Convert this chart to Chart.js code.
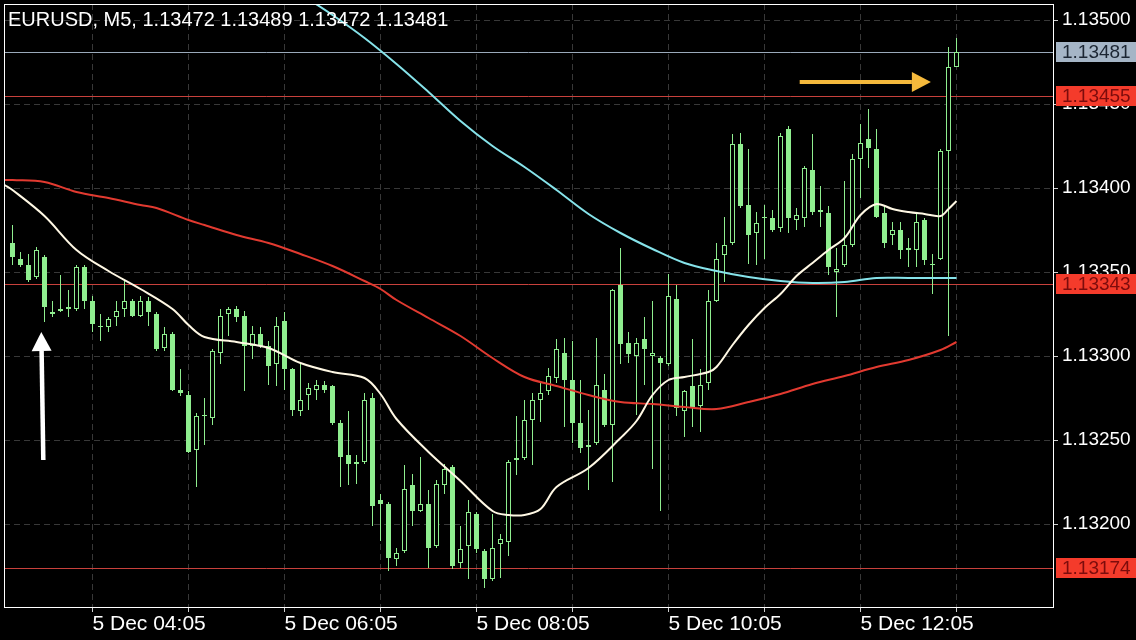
<!DOCTYPE html>
<html>
<head>
<meta charset="utf-8">
<title>EURUSD M5</title>
<style>
  html, body { margin: 0; padding: 0; background: #000; }
  #wrap { width: 1136px; height: 640px; }
</style>
</head>
<body>
<div id="wrap"><canvas id="chart" width="1136" height="640"></canvas></div>
<script src="https://cdn.jsdelivr.net/npm/chart.js@4.4.1/dist/chart.umd.min.js"></script>
<script>
// candles, one per 5 minutes, index 0 = 03:15
const opens = [
  1.13367, 1.13358, 1.13354, 1.13347, 1.13359, 1.13326, 1.13328, 1.13329, 1.13328, 1.13353,
  1.13333, 1.13318, 1.13317, 1.13323, 1.13328, 1.13333, 1.13324, 1.13333, 1.13325, 1.13305,
  1.13313, 1.13280, 1.13277, 1.13244, 1.13265, 1.13263, 1.13302, 1.13325, 1.13328, 1.13324,
  1.13306, 1.13313, 1.13306, 1.13295, 1.13321, 1.13292, 1.13267, 1.13277, 1.13280, 1.13283,
  1.13282, 1.13260, 1.13241, 1.13237, 1.13237, 1.13275, 1.13214, 1.13212, 1.13179, 1.13184,
  1.13223, 1.13208, 1.13212, 1.13187, 1.13223, 1.13234, 1.13177, 1.13187, 1.13206, 1.13184,
  1.13167, 1.13188, 1.13189, 1.13239, 1.13239, 1.13262, 1.13274, 1.13279, 1.13287, 1.13302,
  1.13286, 1.13260, 1.13247, 1.13248, 1.13280, 1.13259, 1.13342, 1.13308, 1.13300, 1.13310,
  1.13300, 1.13299, 1.13295, 1.13334, 1.13267, 1.13282, 1.13270, 1.13284, 1.13333, 1.13360,
  1.13367, 1.13426, 1.13390, 1.13373, 1.13382, 1.13382, 1.13376, 1.13435, 1.13381, 1.13382,
  1.13411, 1.13387, 1.13385, 1.13350, 1.13354, 1.13366, 1.13417, 1.13429, 1.13423, 1.13385,
  1.13372, 1.13375, 1.13364, 1.13363, 1.13381, 1.13355, 1.13358, 1.13422, 1.13472
];
const highs = [
  1.13378, 1.13362, 1.13361, 1.13365, 1.13360, 1.13333, 1.13348, 1.13339, 1.13354, 1.13354,
  1.13336, 1.13325, 1.13323, 1.13333, 1.13345, 1.13334, 1.13336, 1.13335, 1.13326, 1.13317,
  1.13314, 1.13292, 1.13279, 1.13266, 1.13275, 1.13304, 1.13328, 1.13329, 1.13330, 1.13327,
  1.13318, 1.13317, 1.13309, 1.13323, 1.13326, 1.13293, 1.13296, 1.13284, 1.13286, 1.13285,
  1.13283, 1.13262, 1.13267, 1.13241, 1.13278, 1.13278, 1.13218, 1.13213, 1.13186, 1.13235,
  1.13230, 1.13240, 1.13220, 1.13226, 1.13236, 1.13235, 1.13199, 1.13214, 1.13207, 1.13185,
  1.13206, 1.13194, 1.13238, 1.13264, 1.13274, 1.13278, 1.13284, 1.13293, 1.13310, 1.13311,
  1.13309, 1.13286, 1.13268, 1.13311, 1.13289, 1.13340, 1.13364, 1.13314, 1.13311, 1.13323,
  1.13333, 1.13300, 1.13349, 1.13342, 1.13280, 1.13310, 1.13292, 1.13339, 1.13367, 1.13383,
  1.13432, 1.13433, 1.13423, 1.13386, 1.13390, 1.13387, 1.13433, 1.13437, 1.13388, 1.13413,
  1.13432, 1.13401, 1.13389, 1.13364, 1.13404, 1.13420, 1.13438, 1.13447, 1.13435, 1.13389,
  1.13380, 1.13380, 1.13370, 1.13385, 1.13382, 1.13361, 1.13423, 1.13484, 1.13489
];
const lows = [
  1.13354, 1.13353, 1.13344, 1.13346, 1.13320, 1.13323, 1.13326, 1.13323, 1.13327, 1.13328,
  1.13314, 1.13309, 1.13314, 1.13318, 1.13323, 1.13323, 1.13323, 1.13318, 1.13303, 1.13303,
  1.13279, 1.13276, 1.13242, 1.13222, 1.13247, 1.13259, 1.13295, 1.13312, 1.13320, 1.13279,
  1.13298, 1.13305, 1.13283, 1.13282, 1.13280, 1.13264, 1.13264, 1.13268, 1.13274, 1.13278,
  1.13259, 1.13222, 1.13223, 1.13224, 1.13236, 1.13199, 1.13190, 1.13172, 1.13175, 1.13183,
  1.13199, 1.13207, 1.13174, 1.13186, 1.13218, 1.13173, 1.13174, 1.13167, 1.13183, 1.13162,
  1.13166, 1.13168, 1.13181, 1.13229, 1.13238, 1.13235, 1.13261, 1.13277, 1.13284, 1.13258,
  1.13248, 1.13242, 1.13220, 1.13247, 1.13258, 1.13225, 1.13295, 1.13296, 1.13265, 1.13283,
  1.13233, 1.13208, 1.13294, 1.13264, 1.13252, 1.13258, 1.13255, 1.13280, 1.13332, 1.13344,
  1.13366, 1.13388, 1.13355, 1.13354, 1.13358, 1.13374, 1.13374, 1.13373, 1.13375, 1.13377,
  1.13384, 1.13377, 1.13348, 1.13323, 1.13353, 1.13365, 1.13394, 1.13412, 1.13382, 1.13364,
  1.13366, 1.13358, 1.13353, 1.13353, 1.13354, 1.13337, 1.13357, 1.13312, 1.13472
];
const closes = [
  1.13359, 1.13354, 1.13345, 1.13363, 1.13329, 1.13325, 1.13327, 1.13328, 1.13353, 1.13333,
  1.13319, 1.13317, 1.13322, 1.13327, 1.13333, 1.13324, 1.13333, 1.13326, 1.13304, 1.13313,
  1.13280, 1.13278, 1.13243, 1.13264, 1.13264, 1.13303, 1.13324, 1.13328, 1.13323, 1.13306,
  1.13313, 1.13306, 1.13294, 1.13318, 1.13292, 1.13268, 1.13274, 1.13281, 1.13283, 1.13280,
  1.13260, 1.13240, 1.13236, 1.13236, 1.13274, 1.13211, 1.13212, 1.13180, 1.13183, 1.13221,
  1.13208, 1.13212, 1.13186, 1.13224, 1.13233, 1.13175, 1.13185, 1.13207, 1.13185, 1.13167,
  1.13186, 1.13191, 1.13237, 1.13238, 1.13262, 1.13274, 1.13278, 1.13288, 1.13304, 1.13286,
  1.13260, 1.13245, 1.13246, 1.13283, 1.13259, 1.13339, 1.13307, 1.13301, 1.13308, 1.13304,
  1.13302, 1.13296, 1.13336, 1.13269, 1.13279, 1.13269, 1.13283, 1.13333, 1.13358, 1.13366,
  1.13426, 1.13389, 1.13372, 1.13379, 1.13383, 1.13375, 1.13431, 1.13382, 1.13384, 1.13412,
  1.13386, 1.13386, 1.13353, 1.13352, 1.13366, 1.13417, 1.13427, 1.13424, 1.13383, 1.13367,
  1.13375, 1.13363, 1.13363, 1.13380, 1.13357, 1.13354, 1.13422, 1.13472, 1.13481
];

// moving averages: [candle index, price]
const fastMa = [
  [-1, 1.134018], [0, 1.133988], [4, 1.133833], [8, 1.133631], [12, 1.133508], [16, 1.133396],
  [20, 1.133277], [22, 1.133185], [24, 1.133116], [28, 1.133085], [32, 1.133048], [36, 1.132957],
  [40, 1.132903], [44, 1.132872], [46, 1.132774], [48, 1.132625], [52, 1.132429], [56, 1.132256],
  [60, 1.132077], [62, 1.132054], [64, 1.132054], [66, 1.132089], [68, 1.132220], [72, 1.132336],
  [76, 1.132512], [78, 1.132613], [80, 1.132768], [82, 1.132857], [84, 1.132877], [87, 1.132905],
  [88, 1.132932], [90, 1.133065], [92, 1.133182], [94, 1.133286], [96, 1.133370], [98, 1.133479],
  [100, 1.133551], [102, 1.133631], [104, 1.133702], [106, 1.133839], [108, 1.133902], [110, 1.133875],
  [112, 1.133858], [114, 1.133848], [116, 1.133833], [117, 1.133875], [118, 1.133923]
];
const midMa = [
  [-1, 1.134048], [0, 1.134045], [4, 1.134033], [8, 1.133979], [12, 1.133940], [16, 1.133899],
  [18, 1.133881], [22, 1.133810], [24, 1.133777], [28, 1.133723], [32, 1.133670], [36, 1.133610],
  [40, 1.133536], [44, 1.133449], [46, 1.133399], [48, 1.133336], [52, 1.133229], [56, 1.133119],
  [60, 1.132988], [64, 1.132875], [68, 1.132824], [72, 1.132765], [76, 1.132726], [80, 1.132713],
  [84, 1.132695], [88, 1.132687], [92, 1.132729], [96, 1.132774], [100, 1.132836], [104, 1.132881],
  [108, 1.132935], [112, 1.132976], [116, 1.133036], [118, 1.133085]
];
const slowMa = [
  [36, 1.135155], [40, 1.135030], [44, 1.134893], [48, 1.134738], [52, 1.134571], [56, 1.134396],
  [60, 1.134250], [64, 1.134123], [68, 1.133991], [72, 1.133845], [76, 1.133730], [80, 1.133634],
  [84, 1.133552], [88, 1.133503], [92, 1.133473], [96, 1.133445], [100, 1.133432], [104, 1.133443],
  [108, 1.133467], [112, 1.133464], [118, 1.133462]
];

const bidPrice = 1.13481;
const levelPrices = [1.13455, 1.13343, 1.13174];
const yTicks = [1.132, 1.1325, 1.133, 1.1335, 1.134, 1.1345, 1.135];
const gridIdx = [10, 22, 34, 46, 58, 70, 82, 94, 106, 118];
const labelIdx = [10, 34, 58, 82, 106];
const timeLabels = ["5 Dec 04:05", "5 Dec 06:05", "5 Dec 08:05", "5 Dec 10:05", "5 Dec 12:05"];
const titleText = "EURUSD, M5, 1.13472 1.13489 1.13472 1.13481";

// hand-drawn arrows: [index, price] from -> to
const whiteArrow = [[3.85, 1.13238], [3.6, 1.13314]];
const orangeArrow = [[98.4, 1.13463], [114.8, 1.13463]];

const green = "#8fee8f";
const font = "'Liberation Sans', Arial, sans-serif";

function drawArrow(ctx, x0, y0, x1, y1, color, w, headLen, headHalf) {
  const a = Math.atan2(y1 - y0, x1 - x0);
  const bx = x1 - Math.cos(a) * headLen, by = y1 - Math.sin(a) * headLen;
  ctx.strokeStyle = color;
  ctx.fillStyle = color;
  ctx.lineWidth = w;
  ctx.beginPath();
  ctx.moveTo(x0, y0);
  ctx.lineTo(bx, by);
  ctx.stroke();
  ctx.beginPath();
  ctx.moveTo(x1, y1);
  ctx.lineTo(bx - Math.sin(a) * headHalf, by + Math.cos(a) * headHalf);
  ctx.lineTo(bx + Math.sin(a) * headHalf, by - Math.cos(a) * headHalf);
  ctx.closePath();
  ctx.fill();
}

const overlay = {
  id: "overlay",
  beforeDatasetsDraw(chart) {
    const { ctx, chartArea: a, scales: { y } } = chart;
    ctx.save();
    ctx.lineWidth = 1;
    const line = (p, c) => {
      const py = Math.round(y.getPixelForValue(p)) + 0.5;
      ctx.strokeStyle = c;
      ctx.beginPath();
      ctx.moveTo(a.left, py);
      ctx.lineTo(a.right, py);
      ctx.stroke();
    };
    line(bidPrice, "#9aa9ba");
    levelPrices.forEach((p) => line(p, "#c8413c"));
    ctx.restore();
  },
  afterDraw(chart) {
    const { ctx, chartArea: a, scales: { x, y } } = chart;
    ctx.save();
    // frame
    ctx.strokeStyle = "#ffffff";
    ctx.lineWidth = 1;
    ctx.strokeRect(a.left + 0.5, a.top + 0.5, a.right - a.left, a.bottom - a.top);

    // price boxes on the axis
    ctx.font = "19px " + font;
    ctx.textBaseline = "middle";
    ctx.textAlign = "left";
    const box = (p, bg, fg) => {
      const py = y.getPixelForValue(p);
      ctx.fillStyle = bg;
      ctx.fillRect(a.right + 3, Math.round(py) - 10, 1136 - a.right - 3, 20);
      ctx.fillStyle = fg;
      ctx.fillText(p.toFixed(5), a.right + 9, py + 1);
    };
    box(bidPrice, "#a5b5c6", "#1c2633");
    levelPrices.forEach((p) => box(p, "#f43b2b", "#7c0c0c"));

    // title
    ctx.fillStyle = "#ffffff";
    ctx.font = "20px " + font;
    ctx.textBaseline = "alphabetic";
    ctx.fillText(titleText, 8, 26);

    // arrows
    const px = (pt) => [x.getPixelForValue(pt[0]), y.getPixelForValue(pt[1])];
    let [p0, p1] = whiteArrow.map(px);
    drawArrow(ctx, p0[0], p0[1], p1[0], p1[1], "#ffffff", 4.5, 19, 10);
    [p0, p1] = orangeArrow.map(px);
    drawArrow(ctx, p0[0], p0[1], p1[0], p1[1], "#f5b93c", 4, 19, 10);
    ctx.restore();
  }
};

const pair = (arr) => arr.map(([i, v]) => ({ x: i, y: v }));
const maLine = (arr, color) => ({
  type: "line",
  data: pair(arr),
  borderColor: color,
  borderWidth: 2,
  pointRadius: 0,
  tension: 0.35,
  order: 0
});

new Chart(document.getElementById("chart"), {
  type: "bar",
  data: {
    datasets: [
      maLine(fastMa, "#fff8e4"),
      maLine(midMa, "#e23a30"),
      maLine(slowMa, "#86e3ea"),
      {
        data: opens.map((o, i) => ({ x: i, y: [o, closes[i]] })),
        backgroundColor: (c) => (closes[c.dataIndex] >= opens[c.dataIndex] ? "#000000" : green),
        borderColor: green,
        borderWidth: 1,
        borderSkipped: false,
        barThickness: 5,
        grouped: false,
        inflateAmount: 0,
        order: 1
      },
      {
        data: lows.map((l, i) => ({ x: i, y: [l, highs[i]] })),
        backgroundColor: green,
        borderWidth: 0,
        barThickness: 1,
        grouped: false,
        inflateAmount: 0,
        order: 2
      }
    ]
  },
  options: {
    responsive: false,
    animation: false,
    devicePixelRatio: 1,
    layout: { padding: { left: 4, top: 4, right: 0, bottom: 0 } },
    plugins: { legend: { display: false }, tooltip: { enabled: false } },
    scales: {
      x: {
        type: "linear",
        min: -1.0625,
        max: 130.0625,
        offset: false,
        alignToPixels: false,
        afterFit: (s) => {
          s.height = 33;
          s.paddingLeft = 0;
          s.paddingRight = 0;
        },
        afterBuildTicks: (s) => { s.ticks = gridIdx.map((v) => ({ value: v })); },
        grid: { offset: false, color: "#383838", tickColor: "#cfcfcf", tickLength: 5, tickBorderDash: [] },
        border: { display: false, dash: [6, 4] },
        ticks: {
          color: "#ffffff",
          font: { family: font, size: 21 },
          align: "start",
          autoSkip: false,
          maxRotation: 0,
          padding: 0,
          callback: (v) => {
            const k = labelIdx.indexOf(v);
            return k >= 0 ? timeLabels[k] : "";
          }
        }
      },
      y: {
        type: "linear",
        position: "right",
        min: 1.135 - 587 / 168000,
        max: 1.135 + 16 / 168000,
        alignToPixels: true,
        afterFit: (s) => {
          s.width = 83;
          s.paddingTop = 0;
          s.paddingBottom = 0;
        },
        afterBuildTicks: (s) => { s.ticks = yTicks.map((v) => ({ value: v })); },
        grid: { color: "#383838", tickColor: "#cfcfcf", tickLength: 5, tickBorderDash: [] },
        border: { display: false, dash: [6, 4] },
        ticks: {
          color: "#ffffff",
          font: { family: font, size: 19 },
          padding: 4,
          callback: (v) => Number(v).toFixed(5)
        }
      }
    }
  },
  plugins: [overlay]
});
</script>
</body>
</html>
